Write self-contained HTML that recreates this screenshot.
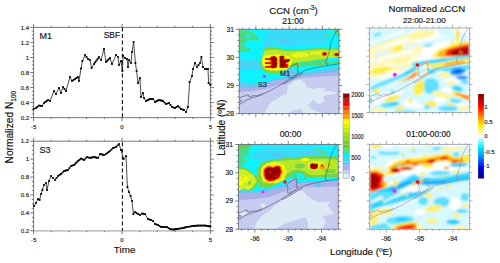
<!DOCTYPE html><html><head><meta charset="utf-8"><style>html,body{margin:0;padding:0;background:#fff;width:500px;height:263px;overflow:hidden}svg{display:block}svg text{stroke:#222;stroke-width:0.16px}</style></head><body>
<svg width="500" height="263" viewBox="0 0 500 263" font-family='"Liberation Sans", sans-serif'>
<rect width="500" height="263" fill="#fff"/>
<g stroke="#555" stroke-width="0.8" fill="none">
<line x1="33.6" y1="27.4" x2="210.4" y2="27.4"/>
<line x1="33.6" y1="117.6" x2="210.4" y2="117.6"/>
<line x1="33.6" y1="27.4" x2="33.6" y2="117.6"/>
<line x1="210.4" y1="27.4" x2="210.4" y2="117.6"/>
<line x1="30.2" y1="117.6" x2="33.6" y2="117.6"/>
<line x1="210.4" y1="117.6" x2="213.8" y2="117.6"/>
<line x1="31.8" y1="113.84" x2="33.6" y2="113.84"/>
<line x1="210.4" y1="113.84" x2="212.2" y2="113.84"/>
<line x1="31.8" y1="110.08" x2="33.6" y2="110.08"/>
<line x1="210.4" y1="110.08" x2="212.2" y2="110.08"/>
<line x1="31.8" y1="106.32" x2="33.6" y2="106.32"/>
<line x1="210.4" y1="106.32" x2="212.2" y2="106.32"/>
<line x1="30.2" y1="102.57" x2="33.6" y2="102.57"/>
<line x1="210.4" y1="102.57" x2="213.8" y2="102.57"/>
<line x1="31.8" y1="98.81" x2="33.6" y2="98.81"/>
<line x1="210.4" y1="98.81" x2="212.2" y2="98.81"/>
<line x1="31.8" y1="95.05" x2="33.6" y2="95.05"/>
<line x1="210.4" y1="95.05" x2="212.2" y2="95.05"/>
<line x1="31.8" y1="91.29" x2="33.6" y2="91.29"/>
<line x1="210.4" y1="91.29" x2="212.2" y2="91.29"/>
<line x1="30.2" y1="87.53" x2="33.6" y2="87.53"/>
<line x1="210.4" y1="87.53" x2="213.8" y2="87.53"/>
<line x1="31.8" y1="83.78" x2="33.6" y2="83.78"/>
<line x1="210.4" y1="83.78" x2="212.2" y2="83.78"/>
<line x1="31.8" y1="80.02" x2="33.6" y2="80.02"/>
<line x1="210.4" y1="80.02" x2="212.2" y2="80.02"/>
<line x1="31.8" y1="76.26" x2="33.6" y2="76.26"/>
<line x1="210.4" y1="76.26" x2="212.2" y2="76.26"/>
<line x1="30.2" y1="72.5" x2="33.6" y2="72.5"/>
<line x1="210.4" y1="72.5" x2="213.8" y2="72.5"/>
<line x1="31.8" y1="68.74" x2="33.6" y2="68.74"/>
<line x1="210.4" y1="68.74" x2="212.2" y2="68.74"/>
<line x1="31.8" y1="64.98" x2="33.6" y2="64.98"/>
<line x1="210.4" y1="64.98" x2="212.2" y2="64.98"/>
<line x1="31.8" y1="61.23" x2="33.6" y2="61.23"/>
<line x1="210.4" y1="61.23" x2="212.2" y2="61.23"/>
<line x1="30.2" y1="57.47" x2="33.6" y2="57.47"/>
<line x1="210.4" y1="57.47" x2="213.8" y2="57.47"/>
<line x1="31.8" y1="53.71" x2="33.6" y2="53.71"/>
<line x1="210.4" y1="53.71" x2="212.2" y2="53.71"/>
<line x1="31.8" y1="49.95" x2="33.6" y2="49.95"/>
<line x1="210.4" y1="49.95" x2="212.2" y2="49.95"/>
<line x1="31.8" y1="46.19" x2="33.6" y2="46.19"/>
<line x1="210.4" y1="46.19" x2="212.2" y2="46.19"/>
<line x1="30.2" y1="42.43" x2="33.6" y2="42.43"/>
<line x1="210.4" y1="42.43" x2="213.8" y2="42.43"/>
<line x1="31.8" y1="38.67" x2="33.6" y2="38.67"/>
<line x1="210.4" y1="38.67" x2="212.2" y2="38.67"/>
<line x1="31.8" y1="34.92" x2="33.6" y2="34.92"/>
<line x1="210.4" y1="34.92" x2="212.2" y2="34.92"/>
<line x1="31.8" y1="31.16" x2="33.6" y2="31.16"/>
<line x1="210.4" y1="31.16" x2="212.2" y2="31.16"/>
<line x1="30.2" y1="27.4" x2="33.6" y2="27.4"/>
<line x1="210.4" y1="27.4" x2="213.8" y2="27.4"/>
<line x1="33.6" y1="24" x2="33.6" y2="27.4"/>
<line x1="33.6" y1="117.6" x2="33.6" y2="121"/>
<line x1="51.28" y1="26" x2="51.28" y2="27.4"/>
<line x1="51.28" y1="117.6" x2="51.28" y2="119"/>
<line x1="68.96" y1="26" x2="68.96" y2="27.4"/>
<line x1="68.96" y1="117.6" x2="68.96" y2="119"/>
<line x1="86.64" y1="26" x2="86.64" y2="27.4"/>
<line x1="86.64" y1="117.6" x2="86.64" y2="119"/>
<line x1="104.32" y1="26" x2="104.32" y2="27.4"/>
<line x1="104.32" y1="117.6" x2="104.32" y2="119"/>
<line x1="122" y1="24" x2="122" y2="27.4"/>
<line x1="122" y1="117.6" x2="122" y2="121"/>
<line x1="139.68" y1="26" x2="139.68" y2="27.4"/>
<line x1="139.68" y1="117.6" x2="139.68" y2="119"/>
<line x1="157.36" y1="26" x2="157.36" y2="27.4"/>
<line x1="157.36" y1="117.6" x2="157.36" y2="119"/>
<line x1="175.04" y1="26" x2="175.04" y2="27.4"/>
<line x1="175.04" y1="117.6" x2="175.04" y2="119"/>
<line x1="192.72" y1="26" x2="192.72" y2="27.4"/>
<line x1="192.72" y1="117.6" x2="192.72" y2="119"/>
<line x1="210.4" y1="24" x2="210.4" y2="27.4"/>
<line x1="210.4" y1="117.6" x2="210.4" y2="121"/>
</g>
<g font-size="6" fill="#222" text-anchor="end" font-family='"Liberation Sans", sans-serif'>
<text x="29" y="29.5">1.4</text>
<text x="29" y="44.53">1.2</text>
<text x="29" y="59.57">1</text>
<text x="29" y="74.6">0.8</text>
<text x="29" y="89.63">0.6</text>
<text x="29" y="104.67">0.4</text>
<text x="29" y="119.7">0.2</text>
</g>
<g font-size="6" fill="#222" text-anchor="middle" font-family='"Liberation Sans", sans-serif'>
<text x="33.6" y="128.6">-5</text>
<text x="122" y="128.6">0</text>
<text x="210.4" y="128.6">5</text>
</g>
<text x="39.5" y="39" font-size="9" fill="#111" font-family='"Liberation Sans", sans-serif'>M1</text>
<polyline points="33.6,109 36,108 39,105.6 42,106 44,103 48,100 50,101 54,91 56,94 59,88 61,93 63,87 66,91 70,77 72,81 78,77 79,81 81,68.5 82.4,61 85,55 88,59 90,60 91.6,68 94,64 99,57 101,60 104,49 106,62 110,58 112,64 116,55 118,57 119,65 121,61 122.4,71 123,55.6 125,58 127,59 128,67 129,60 131,63 132,52 133.6,42 135.4,63 136.6,71 138,83 140,78 141,97 143,93 144,98 146,101 150,99 153,99 155,102 159,100 163,101 166,104 169,103 172,107 175,108 178,106 181,109 184,110 186,112 188,107 189.6,82 192,76 193,69 195,63 197,67 200,63 201.4,57 203,67 205,69 208,69 208.6,83 210.4,85" fill="none" stroke="#111" stroke-width="0.75" stroke-linejoin="round"/>
<g fill="#000">
<circle cx="33.6" cy="109" r="1.1"/>
<circle cx="36" cy="108" r="1.1"/>
<circle cx="37.5" cy="106.8" r="1.1"/>
<circle cx="39" cy="105.6" r="1.1"/>
<circle cx="40.5" cy="105.8" r="1.1"/>
<circle cx="42" cy="106" r="1.1"/>
<circle cx="44" cy="103" r="1.1"/>
<circle cx="45.33" cy="102" r="1.1"/>
<circle cx="46.67" cy="101" r="1.1"/>
<circle cx="48" cy="100" r="1.1"/>
<circle cx="50" cy="101" r="1.1"/>
<circle cx="54" cy="91" r="1.1"/>
<circle cx="56" cy="94" r="1.1"/>
<circle cx="59" cy="88" r="1.1"/>
<circle cx="61" cy="93" r="1.1"/>
<circle cx="63" cy="87" r="1.1"/>
<circle cx="64.5" cy="89" r="1.1"/>
<circle cx="66" cy="91" r="1.1"/>
<circle cx="70" cy="77" r="1.1"/>
<circle cx="72" cy="81" r="1.1"/>
<circle cx="73.5" cy="80" r="1.1"/>
<circle cx="75" cy="79" r="1.1"/>
<circle cx="76.5" cy="78" r="1.1"/>
<circle cx="78" cy="77" r="1.1"/>
<circle cx="79" cy="81" r="1.1"/>
<circle cx="81" cy="68.5" r="1.1"/>
<circle cx="82.4" cy="61" r="1.1"/>
<circle cx="85" cy="55" r="1.1"/>
<circle cx="86.5" cy="57" r="1.1"/>
<circle cx="88" cy="59" r="1.1"/>
<circle cx="90" cy="60" r="1.1"/>
<circle cx="91.6" cy="68" r="1.1"/>
<circle cx="94" cy="64" r="1.1"/>
<circle cx="95.25" cy="62.25" r="1.1"/>
<circle cx="96.5" cy="60.5" r="1.1"/>
<circle cx="97.75" cy="58.75" r="1.1"/>
<circle cx="99" cy="57" r="1.1"/>
<circle cx="101" cy="60" r="1.1"/>
<circle cx="104" cy="49" r="1.1"/>
<circle cx="106" cy="62" r="1.1"/>
<circle cx="107.33" cy="60.67" r="1.1"/>
<circle cx="108.67" cy="59.33" r="1.1"/>
<circle cx="110" cy="58" r="1.1"/>
<circle cx="112" cy="64" r="1.1"/>
<circle cx="116" cy="55" r="1.1"/>
<circle cx="118" cy="57" r="1.1"/>
<circle cx="119" cy="65" r="1.1"/>
<circle cx="121" cy="61" r="1.1"/>
<circle cx="122.4" cy="71" r="1.1"/>
<circle cx="123" cy="55.6" r="1.1"/>
<circle cx="125" cy="58" r="1.1"/>
<circle cx="127" cy="59" r="1.1"/>
<circle cx="128" cy="67" r="1.1"/>
<circle cx="129" cy="60" r="1.1"/>
<circle cx="131" cy="63" r="1.1"/>
<circle cx="132" cy="52" r="1.1"/>
<circle cx="133.6" cy="42" r="1.1"/>
<circle cx="135.4" cy="63" r="1.1"/>
<circle cx="136.6" cy="71" r="1.1"/>
<circle cx="138" cy="83" r="1.1"/>
<circle cx="140" cy="78" r="1.1"/>
<circle cx="141" cy="97" r="1.1"/>
<circle cx="143" cy="93" r="1.1"/>
<circle cx="144" cy="98" r="1.1"/>
<circle cx="146" cy="101" r="1.1"/>
<circle cx="147.33" cy="100.33" r="1.1"/>
<circle cx="148.67" cy="99.67" r="1.1"/>
<circle cx="150" cy="99" r="1.1"/>
<circle cx="151.5" cy="99" r="1.1"/>
<circle cx="153" cy="99" r="1.1"/>
<circle cx="155" cy="102" r="1.1"/>
<circle cx="156.33" cy="101.33" r="1.1"/>
<circle cx="157.67" cy="100.67" r="1.1"/>
<circle cx="159" cy="100" r="1.1"/>
<circle cx="160.33" cy="100.33" r="1.1"/>
<circle cx="161.67" cy="100.67" r="1.1"/>
<circle cx="163" cy="101" r="1.1"/>
<circle cx="164.5" cy="102.5" r="1.1"/>
<circle cx="166" cy="104" r="1.1"/>
<circle cx="167.5" cy="103.5" r="1.1"/>
<circle cx="169" cy="103" r="1.1"/>
<circle cx="170.5" cy="105" r="1.1"/>
<circle cx="172" cy="107" r="1.1"/>
<circle cx="173.5" cy="107.5" r="1.1"/>
<circle cx="175" cy="108" r="1.1"/>
<circle cx="176.5" cy="107" r="1.1"/>
<circle cx="178" cy="106" r="1.1"/>
<circle cx="179.5" cy="107.5" r="1.1"/>
<circle cx="181" cy="109" r="1.1"/>
<circle cx="182.5" cy="109.5" r="1.1"/>
<circle cx="184" cy="110" r="1.1"/>
<circle cx="186" cy="112" r="1.1"/>
<circle cx="188" cy="107" r="1.1"/>
<circle cx="189.6" cy="82" r="1.1"/>
<circle cx="192" cy="76" r="1.1"/>
<circle cx="193" cy="69" r="1.1"/>
<circle cx="195" cy="63" r="1.1"/>
<circle cx="197" cy="67" r="1.1"/>
<circle cx="198.5" cy="65" r="1.1"/>
<circle cx="200" cy="63" r="1.1"/>
<circle cx="201.4" cy="57" r="1.1"/>
<circle cx="203" cy="67" r="1.1"/>
<circle cx="205" cy="69" r="1.1"/>
<circle cx="206.5" cy="69" r="1.1"/>
<circle cx="208" cy="69" r="1.1"/>
<circle cx="208.6" cy="83" r="1.1"/>
<circle cx="210.4" cy="85" r="1.1"/>
</g>
<g stroke="#555" stroke-width="0.8" fill="none">
<line x1="33.6" y1="141.2" x2="210.4" y2="141.2"/>
</g><line x1="33.6" y1="230.8" x2="210.4" y2="230.8" stroke="#c4c4c4" stroke-width="1.8"/><g stroke="#555" stroke-width="0.8" fill="none">
<line x1="33.6" y1="141.2" x2="33.6" y2="230.8"/>
<line x1="210.4" y1="141.2" x2="210.4" y2="230.8"/>
<line x1="30.2" y1="230.8" x2="33.6" y2="230.8"/>
<line x1="210.4" y1="230.8" x2="213.8" y2="230.8"/>
<line x1="31.8" y1="226.32" x2="33.6" y2="226.32"/>
<line x1="210.4" y1="226.32" x2="212.2" y2="226.32"/>
<line x1="31.8" y1="221.84" x2="33.6" y2="221.84"/>
<line x1="210.4" y1="221.84" x2="212.2" y2="221.84"/>
<line x1="31.8" y1="217.36" x2="33.6" y2="217.36"/>
<line x1="210.4" y1="217.36" x2="212.2" y2="217.36"/>
<line x1="30.2" y1="212.88" x2="33.6" y2="212.88"/>
<line x1="210.4" y1="212.88" x2="213.8" y2="212.88"/>
<line x1="31.8" y1="208.4" x2="33.6" y2="208.4"/>
<line x1="210.4" y1="208.4" x2="212.2" y2="208.4"/>
<line x1="31.8" y1="203.92" x2="33.6" y2="203.92"/>
<line x1="210.4" y1="203.92" x2="212.2" y2="203.92"/>
<line x1="31.8" y1="199.44" x2="33.6" y2="199.44"/>
<line x1="210.4" y1="199.44" x2="212.2" y2="199.44"/>
<line x1="30.2" y1="194.96" x2="33.6" y2="194.96"/>
<line x1="210.4" y1="194.96" x2="213.8" y2="194.96"/>
<line x1="31.8" y1="190.48" x2="33.6" y2="190.48"/>
<line x1="210.4" y1="190.48" x2="212.2" y2="190.48"/>
<line x1="31.8" y1="186" x2="33.6" y2="186"/>
<line x1="210.4" y1="186" x2="212.2" y2="186"/>
<line x1="31.8" y1="181.52" x2="33.6" y2="181.52"/>
<line x1="210.4" y1="181.52" x2="212.2" y2="181.52"/>
<line x1="30.2" y1="177.04" x2="33.6" y2="177.04"/>
<line x1="210.4" y1="177.04" x2="213.8" y2="177.04"/>
<line x1="31.8" y1="172.56" x2="33.6" y2="172.56"/>
<line x1="210.4" y1="172.56" x2="212.2" y2="172.56"/>
<line x1="31.8" y1="168.08" x2="33.6" y2="168.08"/>
<line x1="210.4" y1="168.08" x2="212.2" y2="168.08"/>
<line x1="31.8" y1="163.6" x2="33.6" y2="163.6"/>
<line x1="210.4" y1="163.6" x2="212.2" y2="163.6"/>
<line x1="30.2" y1="159.12" x2="33.6" y2="159.12"/>
<line x1="210.4" y1="159.12" x2="213.8" y2="159.12"/>
<line x1="31.8" y1="154.64" x2="33.6" y2="154.64"/>
<line x1="210.4" y1="154.64" x2="212.2" y2="154.64"/>
<line x1="31.8" y1="150.16" x2="33.6" y2="150.16"/>
<line x1="210.4" y1="150.16" x2="212.2" y2="150.16"/>
<line x1="31.8" y1="145.68" x2="33.6" y2="145.68"/>
<line x1="210.4" y1="145.68" x2="212.2" y2="145.68"/>
<line x1="30.2" y1="141.2" x2="33.6" y2="141.2"/>
<line x1="210.4" y1="141.2" x2="213.8" y2="141.2"/>
<line x1="33.6" y1="137.8" x2="33.6" y2="141.2"/>
<line x1="33.6" y1="230.8" x2="33.6" y2="234.2"/>
<line x1="51.28" y1="139.8" x2="51.28" y2="141.2"/>
<line x1="51.28" y1="230.8" x2="51.28" y2="232.2"/>
<line x1="68.96" y1="139.8" x2="68.96" y2="141.2"/>
<line x1="68.96" y1="230.8" x2="68.96" y2="232.2"/>
<line x1="86.64" y1="139.8" x2="86.64" y2="141.2"/>
<line x1="86.64" y1="230.8" x2="86.64" y2="232.2"/>
<line x1="104.32" y1="139.8" x2="104.32" y2="141.2"/>
<line x1="104.32" y1="230.8" x2="104.32" y2="232.2"/>
<line x1="122" y1="137.8" x2="122" y2="141.2"/>
<line x1="122" y1="230.8" x2="122" y2="234.2"/>
<line x1="139.68" y1="139.8" x2="139.68" y2="141.2"/>
<line x1="139.68" y1="230.8" x2="139.68" y2="232.2"/>
<line x1="157.36" y1="139.8" x2="157.36" y2="141.2"/>
<line x1="157.36" y1="230.8" x2="157.36" y2="232.2"/>
<line x1="175.04" y1="139.8" x2="175.04" y2="141.2"/>
<line x1="175.04" y1="230.8" x2="175.04" y2="232.2"/>
<line x1="192.72" y1="139.8" x2="192.72" y2="141.2"/>
<line x1="192.72" y1="230.8" x2="192.72" y2="232.2"/>
<line x1="210.4" y1="137.8" x2="210.4" y2="141.2"/>
<line x1="210.4" y1="230.8" x2="210.4" y2="234.2"/>
</g>
<g font-size="6" fill="#222" text-anchor="end" font-family='"Liberation Sans", sans-serif'>
<text x="29" y="143.3">1.2</text>
<text x="29" y="161.22">1</text>
<text x="29" y="179.14">0.8</text>
<text x="29" y="197.06">0.6</text>
<text x="29" y="214.98">0.4</text>
<text x="29" y="232.9">0.2</text>
</g>
<g font-size="6" fill="#222" text-anchor="middle" font-family='"Liberation Sans", sans-serif'>
<text x="33.6" y="242">-5</text>
<text x="122" y="242">0</text>
<text x="210.4" y="242">5</text>
</g>
<text x="39.5" y="153" font-size="9" fill="#111" font-family='"Liberation Sans", sans-serif'>S3</text>
<polyline points="34,206 36,203 38,199 39.6,200 41,194 42.4,190 44,185 46,183 47,190 49,181 51,176 53,178 55,180 58,176 61,174 64,171 68,170 71,166 74,165 78,161 81,158.6 84,160 87,157 90,158 94,157 98,158 100,154 104,155 106,154 110,151 113,148 116,147 119,144 121,150 123.6,159 126,156 127.4,187 129,192 130.6,196 132,201 133.4,214 135,212 138,214 140,215 142,213.6 145,214 148,219 151,220 153,221 155,224 158,225 161,227 167,227 170,229 173,229.6 177,229 183,228 187,227 193,226 199,225.6 205,225.6 210,226.4" fill="none" stroke="#111" stroke-width="0.75" stroke-linejoin="round"/>
<g fill="#000">
<circle cx="34" cy="206" r="1.1"/>
<circle cx="36" cy="203" r="1.1"/>
<circle cx="38" cy="199" r="1.1"/>
<circle cx="39.6" cy="200" r="1.1"/>
<circle cx="41" cy="194" r="1.1"/>
<circle cx="42.4" cy="190" r="1.1"/>
<circle cx="44" cy="185" r="1.1"/>
<circle cx="46" cy="183" r="1.1"/>
<circle cx="47" cy="190" r="1.1"/>
<circle cx="49" cy="181" r="1.1"/>
<circle cx="51" cy="176" r="1.1"/>
<circle cx="53" cy="178" r="1.1"/>
<circle cx="55" cy="180" r="1.1"/>
<circle cx="56.5" cy="178" r="1.1"/>
<circle cx="58" cy="176" r="1.1"/>
<circle cx="59.5" cy="175" r="1.1"/>
<circle cx="61" cy="174" r="1.1"/>
<circle cx="62.5" cy="172.5" r="1.1"/>
<circle cx="64" cy="171" r="1.1"/>
<circle cx="65.33" cy="170.67" r="1.1"/>
<circle cx="66.67" cy="170.33" r="1.1"/>
<circle cx="68" cy="170" r="1.1"/>
<circle cx="69.5" cy="168" r="1.1"/>
<circle cx="71" cy="166" r="1.1"/>
<circle cx="72.5" cy="165.5" r="1.1"/>
<circle cx="74" cy="165" r="1.1"/>
<circle cx="75.33" cy="163.67" r="1.1"/>
<circle cx="76.67" cy="162.33" r="1.1"/>
<circle cx="78" cy="161" r="1.1"/>
<circle cx="79.5" cy="159.8" r="1.1"/>
<circle cx="81" cy="158.6" r="1.1"/>
<circle cx="82.5" cy="159.3" r="1.1"/>
<circle cx="84" cy="160" r="1.1"/>
<circle cx="85.5" cy="158.5" r="1.1"/>
<circle cx="87" cy="157" r="1.1"/>
<circle cx="88.5" cy="157.5" r="1.1"/>
<circle cx="90" cy="158" r="1.1"/>
<circle cx="91.33" cy="157.67" r="1.1"/>
<circle cx="92.67" cy="157.33" r="1.1"/>
<circle cx="94" cy="157" r="1.1"/>
<circle cx="95.33" cy="157.33" r="1.1"/>
<circle cx="96.67" cy="157.67" r="1.1"/>
<circle cx="98" cy="158" r="1.1"/>
<circle cx="100" cy="154" r="1.1"/>
<circle cx="101.33" cy="154.33" r="1.1"/>
<circle cx="102.67" cy="154.67" r="1.1"/>
<circle cx="104" cy="155" r="1.1"/>
<circle cx="106" cy="154" r="1.1"/>
<circle cx="107.33" cy="153" r="1.1"/>
<circle cx="108.67" cy="152" r="1.1"/>
<circle cx="110" cy="151" r="1.1"/>
<circle cx="111.5" cy="149.5" r="1.1"/>
<circle cx="113" cy="148" r="1.1"/>
<circle cx="114.5" cy="147.5" r="1.1"/>
<circle cx="116" cy="147" r="1.1"/>
<circle cx="117.5" cy="145.5" r="1.1"/>
<circle cx="119" cy="144" r="1.1"/>
<circle cx="121" cy="150" r="1.1"/>
<circle cx="123.6" cy="159" r="1.1"/>
<circle cx="126" cy="156" r="1.1"/>
<circle cx="127.4" cy="187" r="1.1"/>
<circle cx="129" cy="192" r="1.1"/>
<circle cx="130.6" cy="196" r="1.1"/>
<circle cx="132" cy="201" r="1.1"/>
<circle cx="133.4" cy="214" r="1.1"/>
<circle cx="135" cy="212" r="1.1"/>
<circle cx="136.5" cy="213" r="1.1"/>
<circle cx="138" cy="214" r="1.1"/>
<circle cx="140" cy="215" r="1.1"/>
<circle cx="142" cy="213.6" r="1.1"/>
<circle cx="143.5" cy="213.8" r="1.1"/>
<circle cx="145" cy="214" r="1.1"/>
<circle cx="148" cy="219" r="1.1"/>
<circle cx="149.5" cy="219.5" r="1.1"/>
<circle cx="151" cy="220" r="1.1"/>
<circle cx="153" cy="221" r="1.1"/>
<circle cx="155" cy="224" r="1.1"/>
<circle cx="156.5" cy="224.5" r="1.1"/>
<circle cx="158" cy="225" r="1.1"/>
<circle cx="159.5" cy="226" r="1.1"/>
<circle cx="161" cy="227" r="1.1"/>
<circle cx="162.5" cy="227" r="1.1"/>
<circle cx="164" cy="227" r="1.1"/>
<circle cx="165.5" cy="227" r="1.1"/>
<circle cx="167" cy="227" r="1.1"/>
<circle cx="168.5" cy="228" r="1.1"/>
<circle cx="170" cy="229" r="1.1"/>
<circle cx="171.5" cy="229.3" r="1.1"/>
<circle cx="173" cy="229.6" r="1.1"/>
<circle cx="174.33" cy="229.4" r="1.1"/>
<circle cx="175.67" cy="229.2" r="1.1"/>
<circle cx="177" cy="229" r="1.1"/>
<circle cx="178.5" cy="228.75" r="1.1"/>
<circle cx="180" cy="228.5" r="1.1"/>
<circle cx="181.5" cy="228.25" r="1.1"/>
<circle cx="183" cy="228" r="1.1"/>
<circle cx="184.33" cy="227.67" r="1.1"/>
<circle cx="185.67" cy="227.33" r="1.1"/>
<circle cx="187" cy="227" r="1.1"/>
<circle cx="188.5" cy="226.75" r="1.1"/>
<circle cx="190" cy="226.5" r="1.1"/>
<circle cx="191.5" cy="226.25" r="1.1"/>
<circle cx="193" cy="226" r="1.1"/>
<circle cx="194.5" cy="225.9" r="1.1"/>
<circle cx="196" cy="225.8" r="1.1"/>
<circle cx="197.5" cy="225.7" r="1.1"/>
<circle cx="199" cy="225.6" r="1.1"/>
<circle cx="200.5" cy="225.6" r="1.1"/>
<circle cx="202" cy="225.6" r="1.1"/>
<circle cx="203.5" cy="225.6" r="1.1"/>
<circle cx="205" cy="225.6" r="1.1"/>
<circle cx="206.25" cy="225.8" r="1.1"/>
<circle cx="207.5" cy="226" r="1.1"/>
<circle cx="208.75" cy="226.2" r="1.1"/>
<circle cx="210" cy="226.4" r="1.1"/>
</g>
<line x1="122.4" y1="27.4" x2="122.4" y2="117.6" stroke="#111" stroke-width="1.1" stroke-dasharray="4,2.6"/>
<line x1="122.4" y1="141.2" x2="122.4" y2="230.8" stroke="#111" stroke-width="1.1" stroke-dasharray="4,2.6" stroke-dashoffset="5.6"/>
<text x="103.7" y="37.6" font-size="8.5" fill="#111">SBF</text>
<text x="124.6" y="253.2" font-size="9.9" fill="#111" text-anchor="middle">Time</text>
<text transform="translate(13.4 127.1) rotate(-90)" font-size="10.2" fill="#111" text-anchor="middle">Normalized N<tspan font-size="6.6" dy="2.2">100</tspan></text>
<clipPath id="clipM1"><rect x="239.2" y="29.2" width="99.8" height="84.5"/></clipPath>
<filter id="fM1" x="-5%" y="-5%" width="110%" height="110%"><feGaussianBlur stdDeviation="0.7"/></filter>
<g clip-path="url(#clipM1)"><g filter="url(#fM1)">
<rect fill="#10f2ff" x="230" y="20" width="120" height="100"/>
<polygon fill="#44dd88" points="239.2,29.2 246,29.2 247,31 254,32.5 255,35 259,38 257.5,41 253,40 248,40.5 244,42 243.5,45.5 248,47.5 251,49.5 249,51.5 244,52 239.2,52"/>
<ellipse fill="#10f2ff" cx="248" cy="36" rx="3.5" ry="1.2"/>
<ellipse fill="#66cc44" cx="242.5" cy="37.5" rx="1.2" ry="1"/>
<ellipse fill="#66cc44" cx="243.5" cy="41.5" rx="1.5" ry="1.2"/>
<polygon fill="#38dcf8" points="266,34 270,30.5 275,29.2 324,29.2 327,34.4 328.4,42.4 322,45.6 300,46 274,46.4 265,49 262.8,42"/>
<polygon fill="#7ab8f0" points="277,38 284,40 291.6,41 291,42.2 283,41.5 276.5,39"/>
<polygon fill="#44dd88" points="332,29.2 339,29.2 339,36 335,34"/>
<ellipse fill="#77d444" cx="328" cy="35" rx="1.8" ry="1.5"/>
<ellipse fill="#44dd88" cx="307" cy="31" rx="1.5" ry="1"/>
<polygon fill="#44d4f4" points="239.2,60 255,60.5 261,62 261,70 250,70 239.2,69"/>
<polygon fill="#66c4ee" points="239.2,82 262,84 266,82 280,78 300,73 320,70 339,67 339,120 239.2,120"/>
<polygon fill="#aab0e8" points="239.2,87 255,88.5 265,85 282,80 300,76 320,73 339,72 339,120 239.2,120"/>
<polygon fill="#c6cbf0" points="239.2,92 255,91 265,89 275,86 285,82 294,79 305,77.5 320,76.5 339,75.5 339,120 239.2,120"/>
<ellipse fill="#aab0e8" cx="278" cy="82.5" rx="8" ry="2.5"/>
<polygon fill="#dde9f4" points="264,113.8 268,107 271,102 277,99 283,95 287,94 288,86 295,80.5 301,79.5 305,83 307,87 313,89 318,88 326,88.5 323,92 330,91 337,92.5 335,94 326,95 323,97 325,101.5 318,104 313,100 308,105 313,110 324,113.8 304,113.8 301,109 294,110.5 288,113.8"/>
<polygon fill="#66c4ee" points="282,70 290,69 296,70.5 297,76 293,79 286,80 283,76"/>
<polygon fill="#77d444" points="264,48.8 270,47 290,50 319,48 327,48.5 339,48.5 339,63 330,64 320,65.5 300,66.5 290,66.5 282,72.5 273,73.5 266,72.5 262,69 260.5,64 261,60 262,57 263.5,52"/>
<polygon fill="#bce82a" points="265,50.5 275,49.5 290,51.5 320,49.5 339,50 339,58 325,61.5 300,62 290,62.5 282,70 270,71 263.5,68 262,62 263,55"/>
<ellipse fill="#e8f41a" cx="300" cy="55" rx="9" ry="2.5"/>
<ellipse fill="#e8f41a" cx="318" cy="53" rx="5" ry="1.8"/>
<ellipse fill="#ffff00" cx="296" cy="56" rx="2" ry="1.2"/>
<ellipse fill="#ffff00" cx="312" cy="53.5" rx="1.5" ry="1"/>
<polygon fill="#ffff00" points="264,55.5 276,54.5 289,56 292.5,62 288,69.5 276,70.5 266,69.5 262,63 262,59"/>
<ellipse fill="#ff9900" cx="273.5" cy="62" rx="4.5" ry="6.5"/>
<ellipse fill="#ff9900" cx="283" cy="62" rx="3.5" ry="6.5"/>
<polygon fill="#ee1100" stroke="#ee1100" stroke-width="1.6" stroke-linejoin="round" points="271,57.5 274.5,56.8 276.5,58.5 276,61.5 276.5,64 276,67 272.5,67.5 271,66.5 272.5,64.5 271.5,62.5 272.5,61 271,59.5"/>
<polygon fill="#ee1100" stroke="#ee1100" stroke-width="1.6" stroke-linejoin="round" points="280.3,56.5 283.2,56.5 283.2,60.5 289,59.5 289,61 284.5,62.8 287,66 287,67.2 283.2,66.5 283.2,67.2 280.3,67.2"/>
<rect fill="#ee1100" x="265" y="58.2" width="6" height="1.8"/>
<rect fill="#ee1100" x="265" y="62.2" width="6" height="1.8"/>
<rect fill="#ee1100" x="265" y="66" width="6.5" height="1.8"/>
<polygon fill="#990000" stroke="#990000" stroke-width="0.5" stroke-linejoin="round" points="271,57.5 274.5,56.8 276.5,58.5 276,61.5 276.5,64 276,67 272.5,67.5 271,66.5 272.5,64.5 271.5,62.5 272.5,61 271,59.5"/>
<polygon fill="#990000" stroke="#990000" stroke-width="0.5" stroke-linejoin="round" points="280.3,56.5 283.2,56.5 283.2,60.5 289,59.5 289,61 284.5,62.8 287,66 287,67.2 283.2,66.5 283.2,67.2 280.3,67.2"/>
<ellipse fill="#ff9900" cx="324.5" cy="54" rx="3" ry="2.2"/>
<ellipse fill="#990000" cx="324.5" cy="54" rx="2" ry="1.4"/>
<ellipse fill="#ff9900" cx="336.5" cy="54.5" rx="3.5" ry="2"/>
<ellipse fill="#990000" cx="337" cy="54.5" rx="2.5" ry="1.3"/>
<polygon fill="#44dd88" points="300,62 339,57 339,62 320,64.5 300,65"/>
<polygon fill="#10f2ff" points="326,58.5 339,57.5 339,61 328,62"/>
</g></g>
<clipPath id="clipM2"><rect x="238.3" y="144.5" width="99.9" height="84.7"/></clipPath>
<filter id="fM2" x="-5%" y="-5%" width="110%" height="110%"><feGaussianBlur stdDeviation="0.7"/></filter>
<g clip-path="url(#clipM2)"><g filter="url(#fM2)">
<rect fill="#10f2ff" x="230" y="140" width="120" height="100"/>
<polygon fill="#44dd88" points="238.3,144.5 252,144.5 250,149 247,153 250,157 246,162 240,166 238.3,166"/>
<polygon fill="#66cc44" points="238.3,144.5 250,144.5 247,148 238.3,149"/>
<ellipse fill="#10f2ff" cx="246" cy="158" rx="2" ry="2"/>
<polygon fill="#38dcf8" points="253,153 262,149 275,146 300,148 320,148 328,152 328,157 310,158 290,160 270,161 255,160 252,157"/>
<polygon fill="#66bbf0" points="272,153 283,155 283,157 273,156"/>
<polygon fill="#66bbf0" points="306,151 314,152.5 314,154 306,153"/>
<ellipse fill="#77d444" cx="318" cy="150" rx="1.5" ry="1.5"/>
<ellipse fill="#77d444" cx="323" cy="152" rx="2" ry="2"/>
<ellipse fill="#77d444" cx="335" cy="157" rx="1.5" ry="1.5"/>
<polygon fill="#77d444" points="258,168 262,162 273,159.5 290,157.5 310,156 325,156 339,157 339,177 320,177 310,178 306,176 300,172 294,172 290,177 282,181 275,185 268,188 260,187 258,180"/>
<polygon fill="#b4e82c" points="262,166 272,161.5 290,160 310,159 330,159 339,160 339,173 320,175 310,175 304,171 296,169.5 288,173 280,178 270,184 262,182 261,176"/>
<polygon fill="#44dd88" points="293,171 300,171 307,177 306,180 297,180 292,177"/>
<polygon fill="#10f2ff" points="296,173 301,173 305,178 298,179"/>
<polygon fill="#e8f41a" points="261,168 267,163 276,162 284,165 287,172 284,180 276,183.5 265,182 260.5,175"/>
<ellipse fill="#ffff00" cx="266" cy="178" rx="3" ry="3"/>
<ellipse fill="#ffff00" cx="282" cy="167" rx="2.5" ry="2.5"/>
<polygon fill="#ff9900" points="263,169.5 266.5,166 270,165.5 273,166.5 276,165 280.5,165.5 283,172 280.5,178 274,181.5 268.5,182 264.5,179.5 263,174.5"/>
<polygon fill="#ee1100" stroke="#ee1100" stroke-width="1.8" stroke-linejoin="round" points="265,170 267.5,168 270,167.5 273,168.5 276.5,167 279.5,167.5 280.5,172 278.5,177 274,179.5 269,180 266,178 265,174"/>
<polygon fill="#990000" points="265,170 267.5,168 270,167.5 273,168.5 276.5,167 279.5,167.5 280.5,172 278.5,177 274,179.5 269,180 266,178 265,174"/>
<ellipse fill="#ee1100" cx="270" cy="172" rx="1.2" ry="1"/>
<ellipse fill="#ee1100" cx="276" cy="176" rx="1" ry="1"/>
<ellipse fill="#d8f020" cx="316" cy="164" rx="9" ry="3.5"/>
<ellipse fill="#77d444" cx="300" cy="166" rx="5" ry="2.5"/>
<ellipse fill="#77d444" cx="330" cy="171" rx="6" ry="2"/>
<ellipse fill="#ffff00" cx="314" cy="166.5" rx="5" ry="3"/>
<ellipse fill="#ee1100" cx="314" cy="166.3" rx="4" ry="2.8"/>
<polygon fill="#990000" points="310,165 312,163 314.5,164.5 317,163.5 318,166 316,169 311,168.5"/>
<ellipse fill="#ff9900" cx="322.5" cy="167" rx="2.5" ry="2.5"/>
<ellipse fill="#ee1100" cx="322" cy="165.5" rx="1.2" ry="1"/>
<ellipse fill="#ff9900" cx="329" cy="164.5" rx="1.2" ry="1.5"/>
<ellipse fill="#ffff00" cx="305" cy="159.5" rx="4" ry="1.5"/>
<polygon fill="#77d444" points="238.3,166 244,167 252,172 258,177 259,183 254,189 246,193 238.3,194"/>
<polygon fill="#ccee22" points="238.3,169 245,169.5 253,175 257,181 252,188 244,191.5 238.3,192"/>
<ellipse fill="#e8f41a" cx="244" cy="179" rx="5" ry="4"/>
<ellipse fill="#ffff00" cx="244.5" cy="177.5" rx="2" ry="1.6"/>
<ellipse fill="#ffff00" cx="241" cy="183.5" rx="2.2" ry="2"/>
<ellipse fill="#77d444" cx="249.5" cy="183" rx="1.5" ry="2"/>
<ellipse fill="#e8f41a" cx="247" cy="188" rx="3" ry="1.5"/>
<ellipse fill="#ffff00" cx="240" cy="189.5" rx="1.5" ry="1.2"/>
<ellipse fill="#ff9900" cx="243.5" cy="176.5" rx="0.7" ry="1"/>
<polygon fill="#10f2ff" points="253,169 258,170 257,176 253,174"/>
<polygon fill="#66c4ee" points="238.3,190 255,191.5 270,188.5 290,183 310,181 339,180.5 339,235 238.3,235"/>
<polygon fill="#aab0e8" points="238.3,193 260,192.5 275,189 290,186 305,182.5 320,182 339,181.5 339,235 238.3,235"/>
<ellipse fill="#44d4f4" cx="244" cy="190" rx="3" ry="1.5"/>
<ellipse fill="#44d4f4" cx="252" cy="190" rx="2" ry="1.2"/>
<polygon fill="#c6cbf0" points="238.3,200 255,199 270,197 290,189 310,187 339,186.5 339,235 238.3,235"/>
<ellipse fill="#66c4ee" cx="318" cy="185" rx="3.5" ry="2"/>
<polygon fill="#dde9f4" points="254,229.2 256,224 258,220 263,215 268,212 273,207 280,202 288,197 298,191 304,191 306,195 312,199 318,202 330,202 328,206 331,210 334,214 328,215 322,217 326,221 322,230 308,230 308,224 306,217 296,220 284,224 274,230"/>
<ellipse fill="#dde9f4" cx="243" cy="213" rx="3" ry="2.5"/>
<ellipse fill="#dde9f4" cx="263" cy="205.5" rx="2.5" ry="2.2"/>
<polygon fill="#aab0e8" points="290,179 296,178.5 298,184 294,188 291,193 287,190"/>
</g></g>
<clipPath id="clipM3"><rect x="369.5" y="28.0" width="99.8" height="84.6"/></clipPath>
<filter id="fM3" x="-5%" y="-5%" width="110%" height="110%"><feGaussianBlur stdDeviation="0.9"/></filter>
<g clip-path="url(#clipM3)"><g filter="url(#fM3)">
<rect fill="#ffffff" x="360" y="20" width="120" height="100"/>
<polygon fill="#d6f8ff" points="369.5,28 420,28 402,36 386,43 369.5,50"/>
<ellipse fill="#5ee0ff" cx="377.5" cy="34.5" rx="4" ry="1.5" transform="rotate(-15 377.5 34.5)"/>
<ellipse fill="#5ee0ff" cx="382" cy="39.5" rx="4" ry="1.5" transform="rotate(-20 382 39.5)"/>
<polyline fill="none" stroke="#ffffff" stroke-width="2" stroke-linecap="round" stroke-linejoin="round" points="370,44 386,38 404,31"/>
<polyline fill="none" stroke="#fff6a0" stroke-width="2.8" stroke-linecap="round" stroke-linejoin="round" points="369.5,49 388,42.5 408,35.5"/>
<ellipse fill="#fff6a0" cx="422" cy="34" rx="14" ry="4.5" transform="rotate(-12 422 34)"/>
<polyline fill="none" stroke="#d6f8ff" stroke-width="2.5" stroke-linecap="round" stroke-linejoin="round" points="420,29 455,29"/>
<polyline fill="none" stroke="#d6f8ff" stroke-width="4" stroke-linecap="round" stroke-linejoin="round" points="374,56 395,50 418,45 440,40 455,37"/>
<ellipse fill="#5ee0ff" cx="428" cy="45.5" rx="5" ry="1.4" transform="rotate(-12 428 45.5)"/>
<ellipse fill="#d6f8ff" cx="451.5" cy="37.5" rx="3" ry="5"/>
<ellipse fill="#d6f8ff" cx="464" cy="38.5" rx="4" ry="6"/>
<polyline fill="none" stroke="#ffee44" stroke-width="3.5" stroke-linecap="round" stroke-linejoin="round" points="457.5,30 457.5,43"/>
<ellipse fill="#ffa000" cx="458" cy="34" rx="1.3" ry="1.3"/>
<ellipse fill="#ffee44" cx="452" cy="42.5" rx="2" ry="1.5"/>
<polygon fill="#fff8c0" points="369.5,51 390,46 412,40 424,46 420,56 418,64 405,70 390,75 369.5,79"/>
<polyline fill="none" stroke="#d6f8ff" stroke-width="3.2" stroke-linecap="round" stroke-linejoin="round" points="376,55 396,49.5 418,44.5"/>
<polyline fill="none" stroke="#ffffff" stroke-width="2.8" stroke-linecap="round" stroke-linejoin="round" points="370,62 392,56 412,51"/>
<polyline fill="none" stroke="#ffffff" stroke-width="2.4" stroke-linecap="round" stroke-linejoin="round" points="378,69 398,63 418,58"/>
<ellipse fill="#ffee44" cx="381" cy="70" rx="12" ry="3" transform="rotate(-12 381 70)"/>
<ellipse fill="#ffee44" cx="397" cy="48.5" rx="6" ry="2.5" transform="rotate(-25 397 48.5)"/>
<ellipse fill="#ffe930" cx="400.5" cy="48" rx="2.2" ry="1.8" transform="rotate(-25 400.5 48)"/>
<ellipse fill="#fff6a0" cx="401" cy="60.5" rx="10" ry="2.5" transform="rotate(-15 401 60.5)"/>
<ellipse fill="#d6f8ff" cx="376" cy="60.5" rx="2.5" ry="1" transform="rotate(-15 376 60.5)"/>
<ellipse fill="#d6f8ff" cx="403.5" cy="68" rx="2.5" ry="1.3" transform="rotate(-15 403.5 68)"/>
<ellipse fill="#ffffff" cx="390" cy="74.5" rx="8" ry="2" transform="rotate(-15 390 74.5)"/>
<polygon fill="#d6f8ff" points="369.5,78 398,79.5 369.5,84"/>
<polyline fill="none" stroke="#d6f8ff" stroke-width="7" stroke-linecap="round" stroke-linejoin="round" points="369.5,90 388,82 405,75 418,68"/>
<polyline fill="none" stroke="#5ee0ff" stroke-width="4" stroke-linecap="round" stroke-linejoin="round" points="372,88 388,81.5 404,75 416,68"/>
<polyline fill="none" stroke="#22ccff" stroke-width="3" stroke-linecap="round" stroke-linejoin="round" points="405,74 414,69"/>
<polyline fill="none" stroke="#ffffff" stroke-width="3" stroke-linecap="round" stroke-linejoin="round" points="369.5,97 390,90 418,79"/>
<polyline fill="none" stroke="#ffee44" stroke-width="5" stroke-linecap="round" stroke-linejoin="round" points="399,84.5 409,79 418,72"/>
<polyline fill="none" stroke="#ffa000" stroke-width="3" stroke-linecap="round" stroke-linejoin="round" points="400,84 410,78.5 417,73"/>
<polyline fill="none" stroke="#ff2200" stroke-width="1.5" stroke-linecap="round" stroke-linejoin="round" points="407,80 414,75"/>
<polyline fill="none" stroke="#ffffff" stroke-width="3" stroke-linecap="round" stroke-linejoin="round" points="420,58 440,56.5 469,54"/>
<polygon fill="#ffee44" points="432,56 438,50 450,45 462,42 469.3,41 469.3,57 435,57.5"/>
<polygon fill="#ffa000" points="437,55 442,50.5 452,47 462,44.5 469.3,43.5 469.3,56 440,56.5"/>
<polygon fill="#ff2200" points="444,54.5 448,49.5 456,47.5 463,45.5 469.3,44.5 469.3,56 446,56"/>
<polygon fill="#aa0000" points="450,54.5 453,50.5 458,49 464,48 469.3,47 469.3,55 460,55.5 452,55.5"/>
<ellipse fill="#ffee44" cx="444" cy="53" rx="1.5" ry="1.2"/>
<ellipse fill="#ffa000" cx="461" cy="52.5" rx="1.5" ry="1"/>
<ellipse fill="#d6f8ff" cx="446" cy="33" rx="8" ry="3.5"/>
<polyline fill="none" stroke="#5ee0ff" stroke-width="4.5" stroke-linecap="round" stroke-linejoin="round" points="414,64.5 430,62 450,59.5 469,57.5"/>
<polyline fill="none" stroke="#22ccff" stroke-width="2.3" stroke-linecap="round" stroke-linejoin="round" points="422,62.5 446,59.5"/>
<polyline fill="none" stroke="#ffee44" stroke-width="5" stroke-linecap="round" stroke-linejoin="round" points="432,66.5 450,63.5 469,60.5"/>
<polyline fill="none" stroke="#ffa000" stroke-width="2.8" stroke-linecap="round" stroke-linejoin="round" points="446,64.3 463,61.8"/>
<ellipse fill="#ffee44" cx="427" cy="64" rx="3" ry="2"/>
<ellipse fill="#ffa000" cx="427" cy="63.5" rx="1.5" ry="1"/>
<polygon fill="#d6f8ff" points="418,67 438,68 469.3,64 469.3,80 418,80"/>
<polyline fill="none" stroke="#5ee0ff" stroke-width="5" stroke-linecap="round" stroke-linejoin="round" points="425,72 440,70 469,67"/>
<polyline fill="none" stroke="#5ee0ff" stroke-width="4" stroke-linecap="round" stroke-linejoin="round" points="430,78 450,77 469,76"/>
<ellipse fill="#1e90ff" cx="457" cy="70.5" rx="6" ry="2.5" transform="rotate(-8 457 70.5)"/>
<ellipse fill="#0060e0" cx="457" cy="70.5" rx="3.5" ry="1.4" transform="rotate(-8 457 70.5)"/>
<ellipse fill="#1e90ff" cx="462" cy="77.5" rx="6" ry="2"/>
<ellipse fill="#ffee44" cx="449" cy="75" rx="4" ry="2"/>
<ellipse fill="#ffee44" cx="465.5" cy="71.5" rx="2.5" ry="1.5"/>
<ellipse fill="#ffffff" cx="441" cy="73.5" rx="5" ry="2.5"/>
<ellipse fill="#fff6a0" cx="425.5" cy="72.5" rx="2.5" ry="2.5"/>
<polygon fill="#d6f8ff" points="369.5,92 390,86 418,76 418,113 369.5,113"/>
<polyline fill="none" stroke="#5ee0ff" stroke-width="3.5" stroke-linecap="round" stroke-linejoin="round" points="369.5,101 382,96 393,92"/>
<polyline fill="none" stroke="#ffffff" stroke-width="3" stroke-linecap="round" stroke-linejoin="round" points="372,104 388,98 402,92"/>
<ellipse fill="#ffee44" cx="376" cy="91" rx="4" ry="2" transform="rotate(-20 376 91)"/>
<ellipse fill="#ffee44" cx="392" cy="98.5" rx="8" ry="2.5" transform="rotate(-15 392 98.5)"/>
<ellipse fill="#5ee0ff" cx="390" cy="104.5" rx="10" ry="2.5" transform="rotate(-10 390 104.5)"/>
<ellipse fill="#22ccff" cx="394" cy="104.5" rx="4" ry="1.5"/>
<ellipse fill="#ffee44" cx="400" cy="108" rx="4" ry="2"/>
<ellipse fill="#ffffff" cx="410" cy="103" rx="7" ry="4"/>
<ellipse fill="#ffee44" cx="410.5" cy="101" rx="2.5" ry="2"/>
<ellipse fill="#fff6a0" cx="379" cy="110" rx="9" ry="2"/>
<ellipse fill="#5ee0ff" cx="405" cy="112" rx="12" ry="1.5"/>
<ellipse fill="#ffffff" cx="375" cy="99" rx="3" ry="2"/>
<polygon fill="#d6f8ff" points="418,76 469.3,70 469.3,113 418,113"/>
<ellipse fill="#5ee0ff" cx="431" cy="86" rx="8" ry="8"/>
<ellipse fill="#ffee44" cx="419" cy="88" rx="5" ry="8" transform="rotate(25 419 88)"/>
<ellipse fill="#fff6a0" cx="445" cy="75" rx="6" ry="3"/>
<ellipse fill="#1e90ff" cx="458" cy="72" rx="8" ry="3" transform="rotate(-10 458 72)"/>
<ellipse fill="#0060e0" cx="458" cy="71.5" rx="4" ry="1.5" transform="rotate(-10 458 71.5)"/>
<ellipse fill="#1e90ff" cx="462" cy="77.5" rx="6" ry="2"/>
<polyline fill="none" stroke="#fff6a0" stroke-width="5" stroke-linecap="round" stroke-linejoin="round" points="435,93 446,96 453,100"/>
<ellipse fill="#ffffff" cx="440" cy="100" rx="6" ry="3"/>
<ellipse fill="#ffffff" cx="452" cy="81" rx="8" ry="3"/>
<ellipse fill="#fff6a0" cx="452" cy="83" rx="5" ry="2"/>
<ellipse fill="#5ee0ff" cx="465" cy="82" rx="4" ry="2"/>
<ellipse fill="#5ee0ff" cx="457.5" cy="88.5" rx="6" ry="3" transform="rotate(15 457.5 88.5)"/>
<ellipse fill="#22ccff" cx="457.5" cy="89" rx="3.5" ry="1.6" transform="rotate(15 457.5 89)"/>
<polyline fill="none" stroke="#ffee44" stroke-width="4.5" stroke-linecap="round" stroke-linejoin="round" points="454,93 461,95.5 469,98"/>
<polyline fill="none" stroke="#ffa000" stroke-width="3" stroke-linecap="round" stroke-linejoin="round" points="457,94 463,96 469,98"/>
<polyline fill="none" stroke="#ff2200" stroke-width="1.8" stroke-linecap="round" stroke-linejoin="round" points="464,96.5 469,98.5"/>
<ellipse fill="#5ee0ff" cx="456" cy="101" rx="7" ry="2.2" transform="rotate(10 456 101)"/>
<ellipse fill="#ffee44" cx="431" cy="104" rx="6" ry="3"/>
<ellipse fill="#5ee0ff" cx="427" cy="107" rx="3" ry="2"/>
<ellipse fill="#5ee0ff" cx="448" cy="108.5" rx="10" ry="3"/>
<ellipse fill="#ffee44" cx="451" cy="104.5" rx="4" ry="1.3"/>
<ellipse fill="#fff6a0" cx="463" cy="107" rx="5" ry="4"/>
<ellipse fill="#ffffff" cx="447" cy="90" rx="5" ry="2.5" transform="rotate(15 447 90)"/>
<ellipse fill="#ffffff" cx="385" cy="95" rx="8" ry="2" transform="rotate(-20 385 95)"/>
<ellipse fill="#ffffff" cx="463" cy="104" rx="5" ry="2"/>
<ellipse fill="#ffffff" cx="418" cy="106" rx="6" ry="2"/>
</g></g>
<clipPath id="clipM4"><rect x="369.7" y="144.3" width="99.6" height="85"/></clipPath>
<filter id="fM4" x="-5%" y="-5%" width="110%" height="110%"><feGaussianBlur stdDeviation="0.9"/></filter>
<g clip-path="url(#clipM4)"><g filter="url(#fM4)">
<rect fill="#ffffff" x="360" y="140" width="120" height="100"/>
<ellipse fill="#ffee44" cx="376" cy="146.5" rx="6" ry="2"/>
<ellipse fill="#ffee44" cx="429" cy="146" rx="4" ry="1.5"/>
<polygon fill="#d6f8ff" points="369.7,149 400,147 430,146 469.3,146 469.3,152 440,154 410,157 390,160 369.7,166"/>
<polyline fill="none" stroke="#d6f8ff" stroke-width="6" stroke-linecap="round" stroke-linejoin="round" points="372,152 385,151 398,152 405,150"/>
<polyline fill="none" stroke="#5ee0ff" stroke-width="3" stroke-linecap="round" stroke-linejoin="round" points="380,153 390,153.5 398,153"/>
<ellipse fill="#5ee0ff" cx="373.5" cy="157.3" rx="2.5" ry="1.2"/>
<ellipse fill="#d6f8ff" cx="396" cy="146.5" rx="4" ry="1.5"/>
<ellipse fill="#d6f8ff" cx="378" cy="163" rx="9" ry="4"/>
<ellipse fill="#ffee44" cx="412.5" cy="148.5" rx="2.5" ry="1.3"/>
<ellipse fill="#5ee0ff" cx="414" cy="151" rx="2" ry="1"/>
<ellipse fill="#ffee44" cx="403" cy="153.5" rx="2" ry="1.3"/>
<ellipse fill="#5ee0ff" cx="403" cy="156" rx="1.2" ry="1"/>
<polyline fill="none" stroke="#d6f8ff" stroke-width="6" stroke-linecap="round" stroke-linejoin="round" points="430,149 440,148.5 450,150"/>
<polyline fill="none" stroke="#5ee0ff" stroke-width="3" stroke-linecap="round" stroke-linejoin="round" points="434,148.5 446,149"/>
<ellipse fill="#fff6a0" cx="453" cy="149.5" rx="14" ry="2.5"/>
<ellipse fill="#ffee44" cx="425" cy="152" rx="1" ry="1"/>
<ellipse fill="#ffee44" cx="425" cy="155" rx="1" ry="1"/>
<polygon fill="#d6f8ff" points="450,151 469.3,149 469.3,167 448,167 452,160 450,155"/>
<ellipse fill="#5ee0ff" cx="456" cy="155" rx="3" ry="3"/>
<ellipse fill="#5ee0ff" cx="462" cy="164" rx="6" ry="3"/>
<polyline fill="none" stroke="#ffee44" stroke-width="7.5" stroke-linecap="round" stroke-linejoin="round" points="389,171 396,165 405,162 418,161 428,160 438,158 448,157 454,161 462,160 468,158"/>
<polyline fill="none" stroke="#ffa000" stroke-width="4.2" stroke-linecap="round" stroke-linejoin="round" points="392,169 398,165.5 408,163 418,162.5 428,161.2 438,158.5 446,157.5 454,161 462,160.5"/>
<ellipse fill="#ff2200" cx="431" cy="161.2" rx="4.5" ry="2.2" transform="rotate(-8 431 161.2)"/>
<ellipse fill="#cc1100" cx="432" cy="161.5" rx="3" ry="1.5" transform="rotate(-8 432 161.5)"/>
<ellipse fill="#ff2200" cx="444" cy="158" rx="4" ry="1.8" transform="rotate(-15 444 158)"/>
<ellipse fill="#ff2200" cx="455" cy="161.5" rx="3" ry="1.2" transform="rotate(-8 455 161.5)"/>
<ellipse fill="#ff2200" cx="408" cy="161.5" rx="2.2" ry="1.3"/>
<ellipse fill="#ff2200" cx="415" cy="164.5" rx="3" ry="1.3"/>
<ellipse fill="#5ee0ff" cx="399" cy="165.5" rx="2" ry="1.5"/>
<ellipse fill="#ffee44" cx="428" cy="166" rx="6" ry="2"/>
<ellipse fill="#22ccff" cx="458" cy="165" rx="8" ry="2"/>
<ellipse fill="#fff6a0" cx="378" cy="168.5" rx="10" ry="2"/>
<polyline fill="none" stroke="#d6f8ff" stroke-width="3" stroke-linecap="round" stroke-linejoin="round" points="374,171 388,170"/>
<ellipse fill="#ffee44" cx="390" cy="173" rx="4" ry="2.5"/>
<polyline fill="none" stroke="#ffa000" stroke-width="3.2" stroke-linecap="round" stroke-linejoin="round" points="391,171 398,170.5 406,168.5 412,168"/>
<ellipse fill="#ff2200" cx="395.5" cy="170.5" rx="4.5" ry="2.5"/>
<ellipse fill="#aa0000" cx="395.5" cy="170.5" rx="3.5" ry="1.8"/>
<ellipse fill="#ff2200" cx="405.5" cy="168.5" rx="5" ry="1.5"/>
<ellipse fill="#aa0000" cx="407" cy="168.2" rx="3.5" ry="1.5"/>
<ellipse fill="#ffa000" cx="446.5" cy="168" rx="2.5" ry="1.2"/>
<ellipse fill="#ff2200" cx="446.5" cy="167.8" rx="1.5" ry="0.8"/>
<polygon fill="#ffee44" points="369.7,170 378,169.5 385,173 389,180 388,188 381,193 369.7,194"/>
<polygon fill="#ffa000" points="369.7,171 377,171 384,174 386,180 385,187 379,191.5 369.7,192.5"/>
<polygon fill="#ff2200" points="369.7,172 376,172 383,175 384,179 381,183 383,187 377,190.5 369.7,191"/>
<polygon fill="#aa0000" points="369.7,174 375,174 380,177 380,181 378,184 379,187 374,189 369.7,188"/>
<polyline fill="none" stroke="#d6f8ff" stroke-width="6" stroke-linecap="round" stroke-linejoin="round" points="386,179 398,178 413,178"/>
<polygon fill="#d6f8ff" points="420,172 440,171 469.3,170 469.3,195 420,195"/>
<ellipse fill="#5ee0ff" cx="440" cy="173" rx="10" ry="2.5"/>
<ellipse fill="#ffee44" cx="422" cy="174" rx="2" ry="2"/>
<ellipse fill="#ffee44" cx="456.5" cy="171.5" rx="3.5" ry="1.5"/>
<ellipse fill="#ffee44" cx="445.5" cy="177.5" rx="8" ry="2.3"/>
<polyline fill="none" stroke="#5ee0ff" stroke-width="8" stroke-linecap="round" stroke-linejoin="round" points="378,194 388,191 398,187 408,182 414,178 420,181 430,181.5 445,180.5 458,178 469,176"/>
<polyline fill="none" stroke="#22ccff" stroke-width="4.5" stroke-linecap="round" stroke-linejoin="round" points="381,192.5 390,190 400,186 408,182 414,179 422,182 432,182.5 445,181.5 458,178.5 469,177"/>
<polyline fill="none" stroke="#1e90ff" stroke-width="2.2" stroke-linecap="round" stroke-linejoin="round" points="392,189 400,186 408,183 430,183 445,182"/>
<ellipse fill="#ffee44" cx="395.5" cy="183.5" rx="2.2" ry="3.5"/>
<ellipse fill="#ffee44" cx="414" cy="184" rx="1.7" ry="2.5"/>
<ellipse fill="#ffa000" cx="413.5" cy="183.5" rx="0.9" ry="1.2"/>
<ellipse fill="#ffee44" cx="440.5" cy="188.5" rx="2.5" ry="1.3"/>
<ellipse fill="#ffee44" cx="448.5" cy="186.5" rx="2.5" ry="1.3"/>
<ellipse fill="#ffee44" cx="421" cy="180.5" rx="1.3" ry="3"/>
<ellipse fill="#ff2200" cx="419.5" cy="181" rx="0.8" ry="2"/>
<polygon fill="#d6f8ff" points="369.7,192 385,193 400,194 418,194 469.3,192 469.3,232 369.7,232"/>
<polygon fill="#5ee0ff" points="369.7,192 418,192 430,190 418,198 400,204 385,210 369.7,214"/>
<polyline fill="none" stroke="#22ccff" stroke-width="3" stroke-linecap="round" stroke-linejoin="round" points="372,206 385,202 400,198 418,193"/>
<polyline fill="none" stroke="#ffffff" stroke-width="2.2" stroke-linecap="round" stroke-linejoin="round" points="372,202 382,197"/>
<polyline fill="none" stroke="#d6f8ff" stroke-width="2.5" stroke-linecap="round" stroke-linejoin="round" points="384,202 394,197 404,193"/>
<polyline fill="none" stroke="#ffffff" stroke-width="2.2" stroke-linecap="round" stroke-linejoin="round" points="375,210 395,205 420,198"/>
<ellipse fill="#fff07a" cx="399.5" cy="194.5" rx="1.5" ry="1.5"/>
<ellipse fill="#fff07a" cx="406.5" cy="194.5" rx="1.5" ry="1.5"/>
<ellipse fill="#fff07a" cx="382" cy="198.5" rx="1" ry="1.5"/>
<ellipse fill="#fff07a" cx="428.5" cy="195.5" rx="4" ry="2.5"/>
<ellipse fill="#5ee0ff" cx="423" cy="201" rx="5" ry="4"/>
<ellipse fill="#5ee0ff" cx="442" cy="202" rx="8" ry="5"/>
<ellipse fill="#fff07a" cx="434" cy="208.5" rx="9" ry="3.5" transform="rotate(-10 434 208.5)"/>
<ellipse fill="#ffffff" cx="455" cy="204" rx="6" ry="6"/>
<ellipse fill="#5ee0ff" cx="465" cy="197" rx="4" ry="4"/>
<ellipse fill="#fff07a" cx="465" cy="205.5" rx="3.5" ry="1.8"/>
<ellipse fill="#5ee0ff" cx="462" cy="211" rx="6" ry="2"/>
<ellipse fill="#fff07a" cx="457" cy="215.5" rx="4" ry="2"/>
<ellipse fill="#ffffff" cx="420" cy="212" rx="6" ry="3"/>
<polygon fill="#fff080" points="369.7,212 378,209 388,208 394,212 385,217 378,221 374,227 369.7,227"/>
<polygon fill="#d6f8ff" points="378,215 398,214 418,214 418,218 400,222 380,223"/>
<ellipse fill="#5ee0ff" cx="400" cy="220" rx="14" ry="4" transform="rotate(-5 400 220)"/>
<ellipse fill="#22ccff" cx="402" cy="219" rx="6" ry="2"/>
<polygon fill="#5ee0ff" points="369.7,226 385,223 393,229.5 369.7,229.5"/>
<ellipse fill="#fff07a" cx="432" cy="221" rx="6" ry="2.5"/>
<ellipse fill="#d6f8ff" cx="443" cy="218" rx="5" ry="2"/>
<ellipse fill="#22ccff" cx="453" cy="222" rx="7" ry="2.5"/>
<ellipse fill="#fff6a0" cx="460" cy="228" rx="9" ry="2"/>
<ellipse fill="#fff6a0" cx="422" cy="228" rx="5" ry="1.5"/>
<polygon fill="#ffee44" points="390,230 395,225 405,222.5 418,221.5 418,230"/>
<polygon fill="#ffa000" points="393,230 398,226 408,224 416,223.5 416,230"/>
<polygon fill="#ff2200" points="395,230 400,227 408,225 415,224.5 413,229 405,230"/>
</g></g>
<g fill="none" stroke="#445" stroke-width="0.55" stroke-linejoin="round" clip-path="url(#clipM1)">
<polyline points="239.2,104.8 245.2,100.7 251.2,98.2 259.2,95.7 269.2,91.2 279.2,85.7 288.7,79.7 297.2,74.7 305.2,70.2 315.2,67.7 326.2,65.7 339.2,63.7"/>
<polyline points="327.7,65.7 325.9,62.2 329.6,50.7 331.2,41.7 334.2,35.2 337.7,29.2"/>
<polyline points="239.2,97.7 248.2,94.7 249.2,97 254.2,95.5 257.2,96 263.2,93.7"/>
<polyline points="239.2,102.7 241.7,100.7 239.7,99.7"/>
<polyline points="287.5,70 290,67 293.5,65 297,63.5 298,67 297,70.5 299,71.5 296,75 291,78 288,77 289,73 287.5,70"/>
<polyline points="283.2,84.2 289.2,81.2 297.2,76.4 303.2,72.7"/>
</g>
<g fill="none" stroke="#445" stroke-width="0.55" stroke-linejoin="round" clip-path="url(#clipM2)">
<polyline points="238.3,220.1 244.3,216 250.3,213.5 258.3,211 268.3,206.5 278.3,201 287.8,195 296.3,190 304.3,185.5 314.3,183 325.3,181 338.3,179"/>
<polyline points="326.8,181 325,177.5 328.7,166 330.3,157 333.3,150.5 336.8,144.5"/>
<polyline points="238.3,213 247.3,210 248.3,212.3 253.3,210.8 256.3,211.3 262.3,209"/>
<polyline points="238.3,218 240.8,216 238.8,215"/>
<polyline points="286.6,185.3 289.1,182.3 292.6,180.3 296.1,178.8 297.1,182.3 296.1,185.8 298.1,186.8 295.1,190.3 290.1,193.3 287.1,192.3 288.1,188.3 286.6,185.3"/>
<polyline points="282.3,199.5 288.3,196.5 296.3,191.7 302.3,188"/>
</g>
<g fill="none" stroke="#8a8a8a" stroke-width="0.55" stroke-linejoin="round" clip-path="url(#clipM3)">
<polyline points="369.5,103.6 375.5,99.5 381.5,97 389.5,94.5 399.5,90 409.5,84.5 419,78.5 427.5,73.5 435.5,69 445.5,66.5 456.5,64.5 469.5,62.5"/>
<polyline points="458,64.5 456.2,61 459.9,49.5 461.5,40.5 464.5,34 468,28"/>
<polyline points="369.5,96.5 378.5,93.5 379.5,95.8 384.5,94.3 387.5,94.8 393.5,92.5"/>
<polyline points="369.5,101.5 372,99.5 370,98.5"/>
<polyline points="417.8,68.8 420.3,65.8 423.8,63.8 427.3,62.3 428.3,65.8 427.3,69.3 429.3,70.3 426.3,73.8 421.3,76.8 418.3,75.8 419.3,71.8 417.8,68.8"/>
<polyline points="413.5,83 419.5,80 427.5,75.2 433.5,71.5"/>
</g>
<g fill="none" stroke="#8a8a8a" stroke-width="0.55" stroke-linejoin="round" clip-path="url(#clipM4)">
<polyline points="369.7,219.9 375.7,215.8 381.7,213.3 389.7,210.8 399.7,206.3 409.7,200.8 419.2,194.8 427.7,189.8 435.7,185.3 445.7,182.8 456.7,180.8 469.7,178.8"/>
<polyline points="458.2,180.8 456.4,177.3 460.1,165.8 461.7,156.8 464.7,150.3 468.2,144.3"/>
<polyline points="369.7,212.8 378.7,209.8 379.7,212.1 384.7,210.6 387.7,211.1 393.7,208.8"/>
<polyline points="369.7,217.8 372.2,215.8 370.2,214.8"/>
<polyline points="418,185.1 420.5,182.1 424,180.1 427.5,178.6 428.5,182.1 427.5,185.6 429.5,186.6 426.5,190.1 421.5,193.1 418.5,192.1 419.5,188.1 418,185.1"/>
<polyline points="413.7,199.3 419.7,196.3 427.7,191.5 433.7,187.8"/>
</g>
<g stroke="#556" stroke-width="0.7" fill="none">
<rect x="239.2" y="29.2" width="99.8" height="84.5"/>
<line x1="242.53" y1="113.7" x2="242.53" y2="115.3"/>
<line x1="242.53" y1="27.6" x2="242.53" y2="29.2"/>
<line x1="249.18" y1="113.7" x2="249.18" y2="115.3"/>
<line x1="249.18" y1="27.6" x2="249.18" y2="29.2"/>
<line x1="255.83" y1="113.7" x2="255.83" y2="117.1"/>
<line x1="255.83" y1="25.8" x2="255.83" y2="29.2"/>
<line x1="262.49" y1="113.7" x2="262.49" y2="115.3"/>
<line x1="262.49" y1="27.6" x2="262.49" y2="29.2"/>
<line x1="269.14" y1="113.7" x2="269.14" y2="115.3"/>
<line x1="269.14" y1="27.6" x2="269.14" y2="29.2"/>
<line x1="275.79" y1="113.7" x2="275.79" y2="115.3"/>
<line x1="275.79" y1="27.6" x2="275.79" y2="29.2"/>
<line x1="282.45" y1="113.7" x2="282.45" y2="115.3"/>
<line x1="282.45" y1="27.6" x2="282.45" y2="29.2"/>
<line x1="289.1" y1="113.7" x2="289.1" y2="117.1"/>
<line x1="289.1" y1="25.8" x2="289.1" y2="29.2"/>
<line x1="295.75" y1="113.7" x2="295.75" y2="115.3"/>
<line x1="295.75" y1="27.6" x2="295.75" y2="29.2"/>
<line x1="302.41" y1="113.7" x2="302.41" y2="115.3"/>
<line x1="302.41" y1="27.6" x2="302.41" y2="29.2"/>
<line x1="309.06" y1="113.7" x2="309.06" y2="115.3"/>
<line x1="309.06" y1="27.6" x2="309.06" y2="29.2"/>
<line x1="315.71" y1="113.7" x2="315.71" y2="115.3"/>
<line x1="315.71" y1="27.6" x2="315.71" y2="29.2"/>
<line x1="322.37" y1="113.7" x2="322.37" y2="117.1"/>
<line x1="322.37" y1="25.8" x2="322.37" y2="29.2"/>
<line x1="329.02" y1="113.7" x2="329.02" y2="115.3"/>
<line x1="329.02" y1="27.6" x2="329.02" y2="29.2"/>
<line x1="335.67" y1="113.7" x2="335.67" y2="115.3"/>
<line x1="335.67" y1="27.6" x2="335.67" y2="29.2"/>
<line x1="236" y1="113.7" x2="239.2" y2="113.7"/>
<line x1="339" y1="113.7" x2="342.2" y2="113.7"/>
<line x1="237.4" y1="108.07" x2="239.2" y2="108.07"/>
<line x1="339" y1="108.07" x2="340.8" y2="108.07"/>
<line x1="237.4" y1="102.43" x2="239.2" y2="102.43"/>
<line x1="339" y1="102.43" x2="340.8" y2="102.43"/>
<line x1="237.4" y1="96.8" x2="239.2" y2="96.8"/>
<line x1="339" y1="96.8" x2="340.8" y2="96.8"/>
<line x1="237.4" y1="91.17" x2="239.2" y2="91.17"/>
<line x1="339" y1="91.17" x2="340.8" y2="91.17"/>
<line x1="236" y1="85.53" x2="239.2" y2="85.53"/>
<line x1="339" y1="85.53" x2="342.2" y2="85.53"/>
<line x1="237.4" y1="79.9" x2="239.2" y2="79.9"/>
<line x1="339" y1="79.9" x2="340.8" y2="79.9"/>
<line x1="237.4" y1="74.27" x2="239.2" y2="74.27"/>
<line x1="339" y1="74.27" x2="340.8" y2="74.27"/>
<line x1="237.4" y1="68.63" x2="239.2" y2="68.63"/>
<line x1="339" y1="68.63" x2="340.8" y2="68.63"/>
<line x1="237.4" y1="63" x2="239.2" y2="63"/>
<line x1="339" y1="63" x2="340.8" y2="63"/>
<line x1="236" y1="57.37" x2="239.2" y2="57.37"/>
<line x1="339" y1="57.37" x2="342.2" y2="57.37"/>
<line x1="237.4" y1="51.73" x2="239.2" y2="51.73"/>
<line x1="339" y1="51.73" x2="340.8" y2="51.73"/>
<line x1="237.4" y1="46.1" x2="239.2" y2="46.1"/>
<line x1="339" y1="46.1" x2="340.8" y2="46.1"/>
<line x1="237.4" y1="40.47" x2="239.2" y2="40.47"/>
<line x1="339" y1="40.47" x2="340.8" y2="40.47"/>
<line x1="237.4" y1="34.83" x2="239.2" y2="34.83"/>
<line x1="339" y1="34.83" x2="340.8" y2="34.83"/>
<line x1="236" y1="29.2" x2="239.2" y2="29.2"/>
<line x1="339" y1="29.2" x2="342.2" y2="29.2"/>
</g>
<g font-size="6.8" fill="#222" text-anchor="end" font-family='"Liberation Sans", sans-serif'>
<text x="234" y="116">28</text>
<text x="234" y="87.83">29</text>
<text x="234" y="59.67">30</text>
<text x="234" y="31.5">31</text>
</g>
<g stroke="#556" stroke-width="0.7" fill="none">
<rect x="238.3" y="144.5" width="99.9" height="84.7"/>
<line x1="241.63" y1="229.2" x2="241.63" y2="230.8"/>
<line x1="241.63" y1="142.9" x2="241.63" y2="144.5"/>
<line x1="248.29" y1="229.2" x2="248.29" y2="230.8"/>
<line x1="248.29" y1="142.9" x2="248.29" y2="144.5"/>
<line x1="254.95" y1="229.2" x2="254.95" y2="232.6"/>
<line x1="254.95" y1="141.1" x2="254.95" y2="144.5"/>
<line x1="261.61" y1="229.2" x2="261.61" y2="230.8"/>
<line x1="261.61" y1="142.9" x2="261.61" y2="144.5"/>
<line x1="268.27" y1="229.2" x2="268.27" y2="230.8"/>
<line x1="268.27" y1="142.9" x2="268.27" y2="144.5"/>
<line x1="274.93" y1="229.2" x2="274.93" y2="230.8"/>
<line x1="274.93" y1="142.9" x2="274.93" y2="144.5"/>
<line x1="281.59" y1="229.2" x2="281.59" y2="230.8"/>
<line x1="281.59" y1="142.9" x2="281.59" y2="144.5"/>
<line x1="288.25" y1="229.2" x2="288.25" y2="232.6"/>
<line x1="288.25" y1="141.1" x2="288.25" y2="144.5"/>
<line x1="294.91" y1="229.2" x2="294.91" y2="230.8"/>
<line x1="294.91" y1="142.9" x2="294.91" y2="144.5"/>
<line x1="301.57" y1="229.2" x2="301.57" y2="230.8"/>
<line x1="301.57" y1="142.9" x2="301.57" y2="144.5"/>
<line x1="308.23" y1="229.2" x2="308.23" y2="230.8"/>
<line x1="308.23" y1="142.9" x2="308.23" y2="144.5"/>
<line x1="314.89" y1="229.2" x2="314.89" y2="230.8"/>
<line x1="314.89" y1="142.9" x2="314.89" y2="144.5"/>
<line x1="321.55" y1="229.2" x2="321.55" y2="232.6"/>
<line x1="321.55" y1="141.1" x2="321.55" y2="144.5"/>
<line x1="328.21" y1="229.2" x2="328.21" y2="230.8"/>
<line x1="328.21" y1="142.9" x2="328.21" y2="144.5"/>
<line x1="334.87" y1="229.2" x2="334.87" y2="230.8"/>
<line x1="334.87" y1="142.9" x2="334.87" y2="144.5"/>
<line x1="235.1" y1="229.2" x2="238.3" y2="229.2"/>
<line x1="338.2" y1="229.2" x2="341.4" y2="229.2"/>
<line x1="236.5" y1="223.55" x2="238.3" y2="223.55"/>
<line x1="338.2" y1="223.55" x2="340" y2="223.55"/>
<line x1="236.5" y1="217.91" x2="238.3" y2="217.91"/>
<line x1="338.2" y1="217.91" x2="340" y2="217.91"/>
<line x1="236.5" y1="212.26" x2="238.3" y2="212.26"/>
<line x1="338.2" y1="212.26" x2="340" y2="212.26"/>
<line x1="236.5" y1="206.61" x2="238.3" y2="206.61"/>
<line x1="338.2" y1="206.61" x2="340" y2="206.61"/>
<line x1="235.1" y1="200.97" x2="238.3" y2="200.97"/>
<line x1="338.2" y1="200.97" x2="341.4" y2="200.97"/>
<line x1="236.5" y1="195.32" x2="238.3" y2="195.32"/>
<line x1="338.2" y1="195.32" x2="340" y2="195.32"/>
<line x1="236.5" y1="189.67" x2="238.3" y2="189.67"/>
<line x1="338.2" y1="189.67" x2="340" y2="189.67"/>
<line x1="236.5" y1="184.03" x2="238.3" y2="184.03"/>
<line x1="338.2" y1="184.03" x2="340" y2="184.03"/>
<line x1="236.5" y1="178.38" x2="238.3" y2="178.38"/>
<line x1="338.2" y1="178.38" x2="340" y2="178.38"/>
<line x1="235.1" y1="172.73" x2="238.3" y2="172.73"/>
<line x1="338.2" y1="172.73" x2="341.4" y2="172.73"/>
<line x1="236.5" y1="167.09" x2="238.3" y2="167.09"/>
<line x1="338.2" y1="167.09" x2="340" y2="167.09"/>
<line x1="236.5" y1="161.44" x2="238.3" y2="161.44"/>
<line x1="338.2" y1="161.44" x2="340" y2="161.44"/>
<line x1="236.5" y1="155.79" x2="238.3" y2="155.79"/>
<line x1="338.2" y1="155.79" x2="340" y2="155.79"/>
<line x1="236.5" y1="150.15" x2="238.3" y2="150.15"/>
<line x1="338.2" y1="150.15" x2="340" y2="150.15"/>
<line x1="235.1" y1="144.5" x2="238.3" y2="144.5"/>
<line x1="338.2" y1="144.5" x2="341.4" y2="144.5"/>
</g>
<g font-size="6.8" fill="#222" text-anchor="end" font-family='"Liberation Sans", sans-serif'>
<text x="233.1" y="231.5">28</text>
<text x="233.1" y="203.27">29</text>
<text x="233.1" y="175.03">30</text>
<text x="233.1" y="146.8">31</text>
</g>
<g font-size="6.5" fill="#222" text-anchor="middle" font-family='"Liberation Sans", sans-serif'>
<text x="254.95" y="240.8">-96</text>
<text x="288.25" y="240.8">-95</text>
<text x="321.55" y="240.8">-94</text>
</g>
<g stroke="#8a8a96" stroke-width="0.7" fill="none">
<rect x="369.5" y="28.0" width="99.8" height="84.6"/>
<line x1="372.83" y1="112.6" x2="372.83" y2="114.2"/>
<line x1="372.83" y1="26.4" x2="372.83" y2="28"/>
<line x1="379.48" y1="112.6" x2="379.48" y2="114.2"/>
<line x1="379.48" y1="26.4" x2="379.48" y2="28"/>
<line x1="386.13" y1="112.6" x2="386.13" y2="116"/>
<line x1="386.13" y1="24.6" x2="386.13" y2="28"/>
<line x1="392.79" y1="112.6" x2="392.79" y2="114.2"/>
<line x1="392.79" y1="26.4" x2="392.79" y2="28"/>
<line x1="399.44" y1="112.6" x2="399.44" y2="114.2"/>
<line x1="399.44" y1="26.4" x2="399.44" y2="28"/>
<line x1="406.09" y1="112.6" x2="406.09" y2="114.2"/>
<line x1="406.09" y1="26.4" x2="406.09" y2="28"/>
<line x1="412.75" y1="112.6" x2="412.75" y2="114.2"/>
<line x1="412.75" y1="26.4" x2="412.75" y2="28"/>
<line x1="419.4" y1="112.6" x2="419.4" y2="116"/>
<line x1="419.4" y1="24.6" x2="419.4" y2="28"/>
<line x1="426.05" y1="112.6" x2="426.05" y2="114.2"/>
<line x1="426.05" y1="26.4" x2="426.05" y2="28"/>
<line x1="432.71" y1="112.6" x2="432.71" y2="114.2"/>
<line x1="432.71" y1="26.4" x2="432.71" y2="28"/>
<line x1="439.36" y1="112.6" x2="439.36" y2="114.2"/>
<line x1="439.36" y1="26.4" x2="439.36" y2="28"/>
<line x1="446.01" y1="112.6" x2="446.01" y2="114.2"/>
<line x1="446.01" y1="26.4" x2="446.01" y2="28"/>
<line x1="452.67" y1="112.6" x2="452.67" y2="116"/>
<line x1="452.67" y1="24.6" x2="452.67" y2="28"/>
<line x1="459.32" y1="112.6" x2="459.32" y2="114.2"/>
<line x1="459.32" y1="26.4" x2="459.32" y2="28"/>
<line x1="465.97" y1="112.6" x2="465.97" y2="114.2"/>
<line x1="465.97" y1="26.4" x2="465.97" y2="28"/>
<line x1="366.3" y1="112.6" x2="369.5" y2="112.6"/>
<line x1="469.3" y1="112.6" x2="472.5" y2="112.6"/>
<line x1="367.7" y1="106.96" x2="369.5" y2="106.96"/>
<line x1="469.3" y1="106.96" x2="471.1" y2="106.96"/>
<line x1="367.7" y1="101.32" x2="369.5" y2="101.32"/>
<line x1="469.3" y1="101.32" x2="471.1" y2="101.32"/>
<line x1="367.7" y1="95.68" x2="369.5" y2="95.68"/>
<line x1="469.3" y1="95.68" x2="471.1" y2="95.68"/>
<line x1="367.7" y1="90.04" x2="369.5" y2="90.04"/>
<line x1="469.3" y1="90.04" x2="471.1" y2="90.04"/>
<line x1="366.3" y1="84.4" x2="369.5" y2="84.4"/>
<line x1="469.3" y1="84.4" x2="472.5" y2="84.4"/>
<line x1="367.7" y1="78.76" x2="369.5" y2="78.76"/>
<line x1="469.3" y1="78.76" x2="471.1" y2="78.76"/>
<line x1="367.7" y1="73.12" x2="369.5" y2="73.12"/>
<line x1="469.3" y1="73.12" x2="471.1" y2="73.12"/>
<line x1="367.7" y1="67.48" x2="369.5" y2="67.48"/>
<line x1="469.3" y1="67.48" x2="471.1" y2="67.48"/>
<line x1="367.7" y1="61.84" x2="369.5" y2="61.84"/>
<line x1="469.3" y1="61.84" x2="471.1" y2="61.84"/>
<line x1="366.3" y1="56.2" x2="369.5" y2="56.2"/>
<line x1="469.3" y1="56.2" x2="472.5" y2="56.2"/>
<line x1="367.7" y1="50.56" x2="369.5" y2="50.56"/>
<line x1="469.3" y1="50.56" x2="471.1" y2="50.56"/>
<line x1="367.7" y1="44.92" x2="369.5" y2="44.92"/>
<line x1="469.3" y1="44.92" x2="471.1" y2="44.92"/>
<line x1="367.7" y1="39.28" x2="369.5" y2="39.28"/>
<line x1="469.3" y1="39.28" x2="471.1" y2="39.28"/>
<line x1="367.7" y1="33.64" x2="369.5" y2="33.64"/>
<line x1="469.3" y1="33.64" x2="471.1" y2="33.64"/>
<line x1="366.3" y1="28" x2="369.5" y2="28"/>
<line x1="469.3" y1="28" x2="472.5" y2="28"/>
</g>
<g stroke="#8a8a96" stroke-width="0.7" fill="none">
<rect x="369.7" y="144.3" width="99.6" height="85"/>
<line x1="373.02" y1="229.3" x2="373.02" y2="230.9"/>
<line x1="373.02" y1="142.7" x2="373.02" y2="144.3"/>
<line x1="379.66" y1="229.3" x2="379.66" y2="230.9"/>
<line x1="379.66" y1="142.7" x2="379.66" y2="144.3"/>
<line x1="386.3" y1="229.3" x2="386.3" y2="232.7"/>
<line x1="386.3" y1="140.9" x2="386.3" y2="144.3"/>
<line x1="392.94" y1="229.3" x2="392.94" y2="230.9"/>
<line x1="392.94" y1="142.7" x2="392.94" y2="144.3"/>
<line x1="399.58" y1="229.3" x2="399.58" y2="230.9"/>
<line x1="399.58" y1="142.7" x2="399.58" y2="144.3"/>
<line x1="406.22" y1="229.3" x2="406.22" y2="230.9"/>
<line x1="406.22" y1="142.7" x2="406.22" y2="144.3"/>
<line x1="412.86" y1="229.3" x2="412.86" y2="230.9"/>
<line x1="412.86" y1="142.7" x2="412.86" y2="144.3"/>
<line x1="419.5" y1="229.3" x2="419.5" y2="232.7"/>
<line x1="419.5" y1="140.9" x2="419.5" y2="144.3"/>
<line x1="426.14" y1="229.3" x2="426.14" y2="230.9"/>
<line x1="426.14" y1="142.7" x2="426.14" y2="144.3"/>
<line x1="432.78" y1="229.3" x2="432.78" y2="230.9"/>
<line x1="432.78" y1="142.7" x2="432.78" y2="144.3"/>
<line x1="439.42" y1="229.3" x2="439.42" y2="230.9"/>
<line x1="439.42" y1="142.7" x2="439.42" y2="144.3"/>
<line x1="446.06" y1="229.3" x2="446.06" y2="230.9"/>
<line x1="446.06" y1="142.7" x2="446.06" y2="144.3"/>
<line x1="452.7" y1="229.3" x2="452.7" y2="232.7"/>
<line x1="452.7" y1="140.9" x2="452.7" y2="144.3"/>
<line x1="459.34" y1="229.3" x2="459.34" y2="230.9"/>
<line x1="459.34" y1="142.7" x2="459.34" y2="144.3"/>
<line x1="465.98" y1="229.3" x2="465.98" y2="230.9"/>
<line x1="465.98" y1="142.7" x2="465.98" y2="144.3"/>
<line x1="366.5" y1="229.3" x2="369.7" y2="229.3"/>
<line x1="469.3" y1="229.3" x2="472.5" y2="229.3"/>
<line x1="367.9" y1="223.63" x2="369.7" y2="223.63"/>
<line x1="469.3" y1="223.63" x2="471.1" y2="223.63"/>
<line x1="367.9" y1="217.97" x2="369.7" y2="217.97"/>
<line x1="469.3" y1="217.97" x2="471.1" y2="217.97"/>
<line x1="367.9" y1="212.3" x2="369.7" y2="212.3"/>
<line x1="469.3" y1="212.3" x2="471.1" y2="212.3"/>
<line x1="367.9" y1="206.63" x2="369.7" y2="206.63"/>
<line x1="469.3" y1="206.63" x2="471.1" y2="206.63"/>
<line x1="366.5" y1="200.97" x2="369.7" y2="200.97"/>
<line x1="469.3" y1="200.97" x2="472.5" y2="200.97"/>
<line x1="367.9" y1="195.3" x2="369.7" y2="195.3"/>
<line x1="469.3" y1="195.3" x2="471.1" y2="195.3"/>
<line x1="367.9" y1="189.63" x2="369.7" y2="189.63"/>
<line x1="469.3" y1="189.63" x2="471.1" y2="189.63"/>
<line x1="367.9" y1="183.97" x2="369.7" y2="183.97"/>
<line x1="469.3" y1="183.97" x2="471.1" y2="183.97"/>
<line x1="367.9" y1="178.3" x2="369.7" y2="178.3"/>
<line x1="469.3" y1="178.3" x2="471.1" y2="178.3"/>
<line x1="366.5" y1="172.63" x2="369.7" y2="172.63"/>
<line x1="469.3" y1="172.63" x2="472.5" y2="172.63"/>
<line x1="367.9" y1="166.97" x2="369.7" y2="166.97"/>
<line x1="469.3" y1="166.97" x2="471.1" y2="166.97"/>
<line x1="367.9" y1="161.3" x2="369.7" y2="161.3"/>
<line x1="469.3" y1="161.3" x2="471.1" y2="161.3"/>
<line x1="367.9" y1="155.63" x2="369.7" y2="155.63"/>
<line x1="469.3" y1="155.63" x2="471.1" y2="155.63"/>
<line x1="367.9" y1="149.97" x2="369.7" y2="149.97"/>
<line x1="469.3" y1="149.97" x2="471.1" y2="149.97"/>
<line x1="366.5" y1="144.3" x2="369.7" y2="144.3"/>
<line x1="469.3" y1="144.3" x2="472.5" y2="144.3"/>
</g>
<g font-size="6.5" fill="#222" text-anchor="middle" font-family='"Liberation Sans", sans-serif'>
<text x="386.3" y="240.9">-96</text>
<text x="419.5" y="240.9">-95</text>
<text x="452.7" y="240.9">-94</text>
</g>
<circle cx="264.4" cy="76.4" r="1.6" fill="#ff22ff"/>
<circle cx="287" cy="65.5" r="1.5" fill="#ee1111"/>
<circle cx="263" cy="192" r="1.6" fill="#ff22ff"/>
<circle cx="285" cy="182" r="1.7" fill="#ee1111"/>
<circle cx="394.8" cy="74.8" r="2.0" fill="#ff22ff"/>
<circle cx="417.5" cy="65" r="1.8" fill="#ee1111"/>
<circle cx="394.5" cy="191" r="2.0" fill="#ff22ff"/>
<circle cx="417.5" cy="182" r="1.8" fill="#ee1111"/>
<text x="258" y="86.5" font-size="7.2" fill="#223">S3</text>
<text x="280" y="76.2" font-size="7.2" fill="#223">M1</text>
<text x="293.5" y="14" font-size="9.6" fill="#111" text-anchor="middle">CCN (cm<tspan font-size="6.6" dy="-3.6">-3</tspan><tspan dy="3.6">)</tspan></text>
<text x="293" y="24" font-size="8.5" fill="#111" text-anchor="middle">21:00</text>
<text x="290.5" y="137.2" font-size="8.7" fill="#111" text-anchor="middle">00:00</text>
<text x="426.8" y="12.4" font-size="9.6" fill="#111" text-anchor="middle">Normalized <tspan font-size="7">Δ</tspan>CCN</text>
<text x="424.4" y="23" font-size="8" fill="#111" text-anchor="middle">22:00-21:00</text>
<text x="428.5" y="136.6" font-size="8.3" fill="#111" text-anchor="middle">01:00-00:00</text>
<text x="361.2" y="255.4" font-size="9.8" fill="#111" text-anchor="middle">Longitude (ºE)</text>
<text transform="translate(225.2 127.5) rotate(-90)" font-size="10.1" fill="#111" text-anchor="middle">Latitude (ºN)</text>
<rect x="343" y="93.6" width="6.4" height="4.29" fill="#8b0000"/>
<rect x="343" y="97.84" width="6.4" height="4.29" fill="#b22222"/>
<rect x="343" y="102.08" width="6.4" height="4.29" fill="#ff0000"/>
<rect x="343" y="106.32" width="6.4" height="4.29" fill="#ff4500"/>
<rect x="343" y="110.56" width="6.4" height="4.29" fill="#ff7a00"/>
<rect x="343" y="114.8" width="6.4" height="4.29" fill="#ffa500"/>
<rect x="343" y="119.04" width="6.4" height="4.29" fill="#ffff00"/>
<rect x="343" y="123.28" width="6.4" height="4.29" fill="#ddf500"/>
<rect x="343" y="127.52" width="6.4" height="4.29" fill="#c4ea10"/>
<rect x="343" y="131.76" width="6.4" height="4.29" fill="#aadd22"/>
<rect x="343" y="136" width="6.4" height="4.29" fill="#99d822"/>
<rect x="343" y="140.24" width="6.4" height="4.29" fill="#77cc22"/>
<rect x="343" y="144.48" width="6.4" height="4.29" fill="#66cc22"/>
<rect x="343" y="148.72" width="6.4" height="4.29" fill="#44dd99"/>
<rect x="343" y="152.96" width="6.4" height="4.29" fill="#00f0ff"/>
<rect x="343" y="157.2" width="6.4" height="4.29" fill="#40d4f8"/>
<rect x="343" y="161.44" width="6.4" height="4.29" fill="#70c0ee"/>
<rect x="343" y="165.68" width="6.4" height="4.29" fill="#aaaaee"/>
<rect x="343" y="169.92" width="6.4" height="4.29" fill="#c8d0f0"/>
<rect x="343" y="174.16" width="6.4" height="4.29" fill="#ddeef8"/>
<rect x="343" y="93.6" width="6.4" height="84.8" fill="none" stroke="#999" stroke-width="0.5"/>
<g font-size="6" fill="#222" font-family='"Liberation Sans", sans-serif'>
<text x="351.2" y="96.6" font-size="6.8" textLength="12.8" lengthAdjust="spacingAndGlyphs">2000</text>
<text x="351.2" y="117.7" font-size="6.8" textLength="12.2" lengthAdjust="spacingAndGlyphs">1500</text>
<text x="351.2" y="138.7" font-size="6.8" textLength="12.4" lengthAdjust="spacingAndGlyphs">1000</text>
<text x="351.2" y="159.7" font-size="6.8" textLength="9.4" lengthAdjust="spacingAndGlyphs">500</text>
<text x="351.2" y="180.6" font-size="6.8" textLength="3.4" lengthAdjust="spacingAndGlyphs">0</text>
</g>
<linearGradient id="gd" x1="0" y1="0" x2="0" y2="1"><stop offset="0" stop-color="#800000"/><stop offset="0.15" stop-color="#ff0000"/><stop offset="0.27" stop-color="#ff8800"/><stop offset="0.37" stop-color="#ffee00"/><stop offset="0.5" stop-color="#ffffff"/><stop offset="0.63" stop-color="#00eeff"/><stop offset="0.75" stop-color="#0088ff"/><stop offset="0.87" stop-color="#0000ee"/><stop offset="1" stop-color="#000080"/></linearGradient>
<rect x="478.1" y="94" width="5.8" height="84.5" fill="url(#gd)"/>
<g font-size="6" fill="#222" font-family='"Liberation Sans", sans-serif'>
<text x="484.3" y="108.7">1</text>
<text x="484.3" y="123.8">0.5</text>
<text x="484.3" y="138.4">0</text>
<text x="484.3" y="153.8">-0.5</text>
<text x="484.3" y="168.2">-1</text>
</g>
</svg></body></html>
